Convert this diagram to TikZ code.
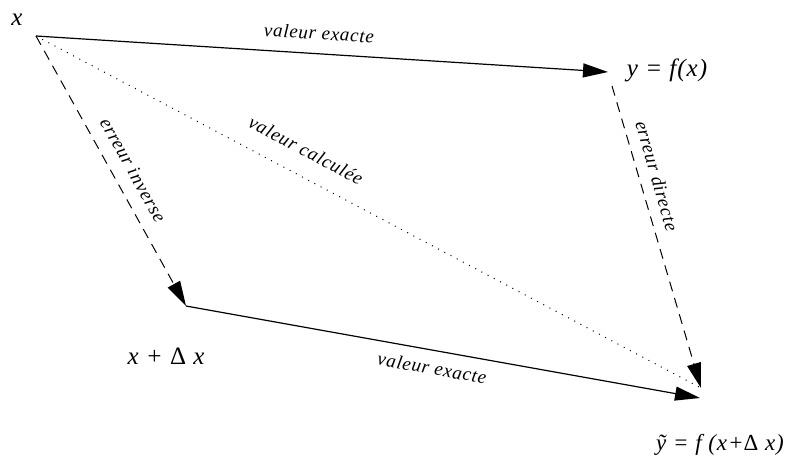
\documentclass[tikz,border=0pt]{standalone}
\usepackage{fontspec}
\setmainfont{Liberation Serif}
\newfontfamily\bigfont[LetterSpace=4]{Liberation Serif Italic}
\newfontfamily\labfont[LetterSpace=4]{Liberation Serif Italic}
\newcommand\updelta{{\rmfamily\upshape Δ}}
\usetikzlibrary{arrows.meta}
\begin{document}
\begin{tikzpicture}[x=1pt,y=-1pt,
  big/.style={font=\fontsize{25}{27}\bigfont, inner sep=0pt},
  lab/.style={font=\fontsize{19}{21}\labfont, inner sep=0pt},
  arr/.style={line width=1.2pt, -{Triangle[length=25pt,width=14pt]}},
  dsh/.style={line width=1pt, dash pattern=on 10pt off 7pt, -{Triangle[length=25pt,width=14pt]}},
  dot/.style={line width=1pt, dash pattern=on 1pt off 6pt}]
\useasboundingbox (0,0) rectangle (786,464);
\coordinate (X) at (36,36);
\coordinate (Y) at (608,72);
\coordinate (Ys) at (612,86);
\coordinate (XD) at (186,306);
\coordinate (YT) at (701,388);
\coordinate (YB) at (700,398);
\node[big] (lx) at (17,20) {x};
\node[big] (ly) at (667,70) {y = f(x)};
\node[big] (lxd) at (166,356) {x + \updelta\ x};
\node[big, font=\fontsize{23}{25}\bigfont, anchor=east] (lyt) at (784,445) {ỹ = f (x+\updelta\ x)};
\draw[arr] (X) -- (Y);
\draw[dsh] (X) -- (XD);
\draw[dsh] (Ys) -- (YT);
\draw[arr] (XD) -- (YB);
\draw[dot] (X) -- (YT);
\node[lab, rotate=-3.6] (l1) at (319,33) {valeur exacte};
\node[lab, rotate=-28] (l2) at (306,150) {valeur calculée};
\node[lab, rotate=-61] (l3) at (133,170) {erreur inverse};
\node[lab, rotate=-74] (l4) at (657,176) {erreur directe};
\node[lab, rotate=-10] (l5) at (432,368) {valeur exacte};
\end{tikzpicture}
\end{document}
